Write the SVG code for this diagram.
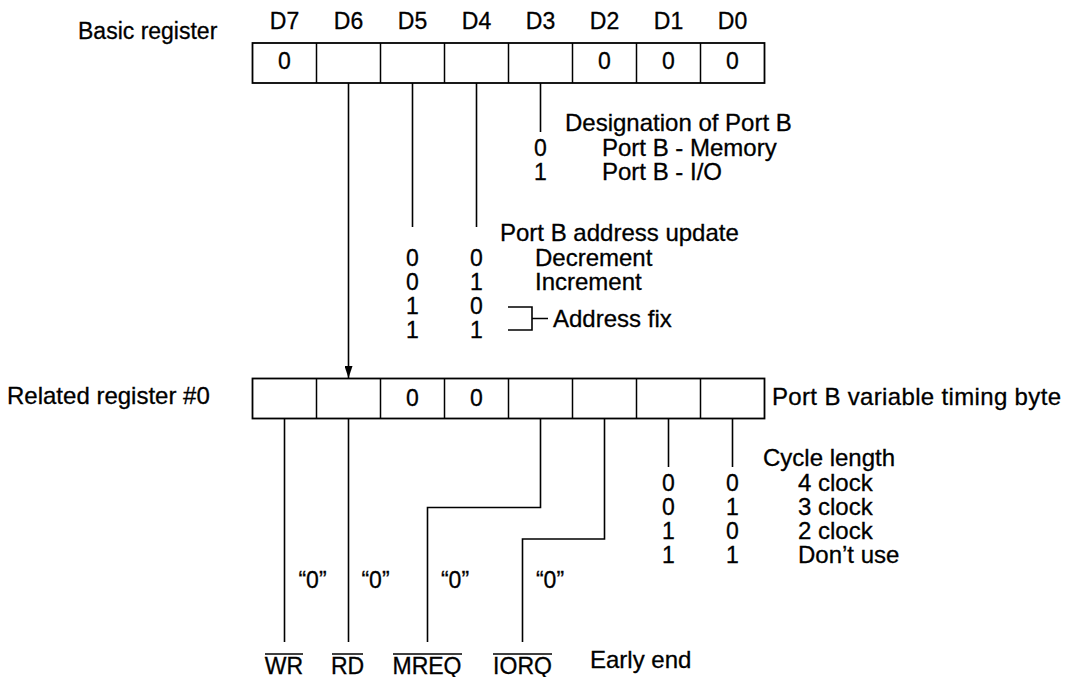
<svg xmlns="http://www.w3.org/2000/svg" width="1068" height="677" viewBox="0 0 1068 677">
<defs>
<style>
text{font-family:"Liberation Sans",Arial,sans-serif;font-size:23px;fill:#000;stroke:#000;stroke-width:0.3}
.m{text-anchor:middle}
.big{font-size:24px}
.box{fill:#fff;stroke:#000;stroke-width:1.8}
.cell{stroke:#000;stroke-width:1.5;fill:none}
.ln{stroke:#000;stroke-width:1.6;fill:none}
.ov{stroke:#000;stroke-width:1.5}
</style>
<marker id="arr" viewBox="0 0 12 8" refX="12" refY="4" markerWidth="12" markerHeight="8" markerUnits="userSpaceOnUse" orient="auto">
<path d="M0,0 L12,4 L0,8 Z" fill="#000"/>
</marker>
</defs>
<rect width="1068" height="677" fill="#fff"/>

<g id="bit-labels">
<text class="m" x="284.5" y="29">D7</text>
<text class="m" x="348.5" y="29">D6</text>
<text class="m" x="412.5" y="29">D5</text>
<text class="m" x="476.5" y="29">D4</text>
<text class="m" x="540.5" y="29">D3</text>
<text class="m" x="604.5" y="29">D2</text>
<text class="m" x="668.5" y="29">D1</text>
<text class="m" x="732.5" y="29">D0</text>
</g>

<g id="basic-register">
<text x="78" y="39">Basic register</text>
<rect class="box" x="252.5" y="43" width="512" height="40"/>
<path class="cell" d="M316.5,43V83M380.5,43V83M444.5,43V83M508.5,43V83M572.5,43V83M636.5,43V83M700.5,43V83"/>
<text class="m" x="284.5" y="69">0</text>
<text class="m" x="604.5" y="69">0</text>
<text class="m" x="668.5" y="69">0</text>
<text class="m" x="732.5" y="69">0</text>
</g>

<g id="related-register">
<text class="big" x="7" y="404">Related register #0</text>
<rect class="box" x="252.5" y="378.5" width="512" height="40"/>
<path class="cell" d="M316.5,378.5V418.5M380.5,378.5V418.5M444.5,378.5V418.5M508.5,378.5V418.5M572.5,378.5V418.5M636.5,378.5V418.5M700.5,378.5V418.5"/>
<text class="m" x="412.5" y="406">0</text>
<text class="m" x="476.5" y="406">0</text>
<text class="big" x="772" y="405" textLength="289" lengthAdjust="spacing">Port B variable timing byte</text>
</g>

<g id="connectors">
<line class="ln" x1="348.5" y1="83" x2="348.5" y2="378" marker-end="url(#arr)"/>
<line class="ln" x1="412.5" y1="83" x2="412.5" y2="227"/>
<line class="ln" x1="476.5" y1="83" x2="476.5" y2="227"/>
<line class="ln" x1="540.5" y1="83" x2="540.5" y2="132"/>
<line class="ln" x1="284.5" y1="418.5" x2="284.5" y2="642"/>
<line class="ln" x1="348.5" y1="418.5" x2="348.5" y2="642" stroke-width="2"/>
<path class="ln" d="M540.5,418.5V507.5H427.5V642"/>
<path class="ln" d="M604.5,418.5V539H522.5V642"/>
<line class="ln" x1="668.5" y1="418.5" x2="668.5" y2="467"/>
<line class="ln" x1="732.5" y1="418.5" x2="732.5" y2="467"/>
<path class="ln" d="M508,307H532V330H508M532,318.5H548"/>
</g>

<g id="port-b-designation">
<text class="big" x="565" y="131">Designation of Port B</text>
<text class="m" x="540.5" y="156">0</text>
<text class="big" x="602" y="156">Port B - Memory</text>
<text class="m" x="540.5" y="180">1</text>
<text class="big" x="602" y="180">Port B - I/O</text>
</g>

<g id="address-update">
<text class="big" x="500" y="241">Port B address update</text>
<text class="m" x="412.5" y="266">0</text><text class="m" x="476.5" y="266">0</text>
<text class="big" x="535" y="266">Decrement</text>
<text class="m" x="412.5" y="290">0</text><text class="m" x="476.5" y="290">1</text>
<text class="big" x="535" y="290">Increment</text>
<text class="m" x="412.5" y="314">1</text><text class="m" x="476.5" y="314">0</text>
<text class="m" x="412.5" y="338">1</text><text class="m" x="476.5" y="338">1</text>
<text class="big" x="553" y="327">Address fix</text>
</g>

<g id="cycle-length">
<text class="big" x="763" y="466">Cycle length</text>
<text class="m" x="668.5" y="491">0</text><text class="m" x="732.5" y="491">0</text>
<text class="big" x="798" y="491">4 clock</text>
<text class="m" x="668.5" y="515">0</text><text class="m" x="732.5" y="515">1</text>
<text class="big" x="798" y="515">3 clock</text>
<text class="m" x="668.5" y="539">1</text><text class="m" x="732.5" y="539">0</text>
<text class="big" x="798" y="539">2 clock</text>
<text class="m" x="668.5" y="563">1</text><text class="m" x="732.5" y="563">1</text>
<text class="big" x="798" y="563">Don’t use</text>
</g>

<g id="early-end">
<text class="m" x="312.5" y="588">“0”</text>
<text class="m" x="375.5" y="588">“0”</text>
<text class="m" x="455" y="588">“0”</text>
<text class="m" x="550" y="588">“0”</text>
<text class="m" x="284" y="674">WR</text>
<line class="ov" x1="265" y1="654" x2="303" y2="654"/>
<text class="m" x="347.5" y="674">RD</text>
<line class="ov" x1="332" y1="654" x2="363" y2="654"/>
<text class="m" x="427" y="674">MREQ</text>
<line class="ov" x1="393" y1="654" x2="462" y2="654"/>
<text class="m" x="522.5" y="674">IORQ</text>
<line class="ov" x1="493" y1="654" x2="552" y2="654"/>
<text class="big" x="590" y="668">Early end</text>
</g>
</svg>
